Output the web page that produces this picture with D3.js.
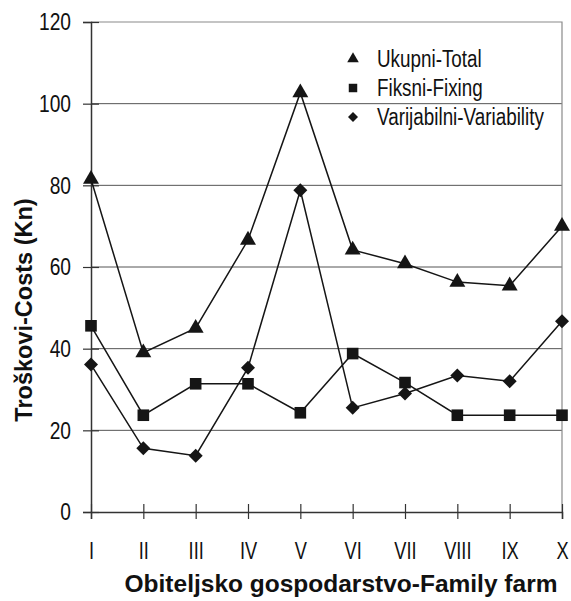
<!DOCTYPE html>
<html>
<head>
<meta charset="utf-8">
<script src="https://cdn.jsdelivr.net/npm/d3@7"></script>
<style>
  body { margin: 0; background: #fff; }
  svg { display: block; }
</style>
</head>
<body>
<div id="chart"></div>
<script>
// farms on the x axis
const farms = ['I', 'II', 'III', 'IV', 'V', 'VI', 'VII', 'VIII', 'IX', 'X'];
// costs per farm (Kn)
const total = [81.5, 39, 45, 66.6, 102.7, 64.2, 60.8, 56.3, 55.4, 70];
const fixed = [45.6, 23.7, 31.4, 31.4, 24.3, 38.8, 31.7, 23.7, 23.7, 23.7];
const variable = [36.1, 15.6, 13.8, 35.3, 78.8, 25.5, 29, 33.4, 32, 46.7];
const yTicks = [0, 20, 40, 60, 80, 100, 120];
const seriesNames = ['Ukupni-Total', 'Fiksni-Fixing', 'Varijabilni-Variability'];

const width = 571, height = 601;
const plotLeft = 91, plotRight = 562, plotTop = 22, plotBottom = 512;
const font = "'Liberation Sans', Arial, sans-serif";
const squeeze = 0.8; // the reference uses a narrow face, so squash horizontally

const svg = d3.select('#chart').append('svg')
  .attr('width', width)
  .attr('height', height);

const x = d3.scalePoint().domain(farms).range([plotLeft, plotRight]).padding(0);
const y = d3.scaleLinear().domain([0, 120]).range([plotBottom, plotTop]);

// gridlines
svg.append('g')
  .selectAll('line')
  .data(yTicks.filter(d => d > 0 && d < 120))
  .join('line')
    .attr('x1', plotLeft).attr('x2', plotRight)
    .attr('y1', d => y(d)).attr('y2', d => y(d))
    .attr('stroke', '#555')
    .attr('stroke-width', 1);

// top + right border
svg.append('path')
  .attr('d', `M${plotLeft},${y(120)}H${plotRight}V${plotBottom}`)
  .attr('fill', 'none')
  .attr('stroke', '#8a8a8a')
  .attr('stroke-width', 1.2);

// y axis
const yAxis = svg.append('g')
  .attr('transform', `translate(${plotLeft},0)`)
  .call(d3.axisLeft(y).tickValues(yTicks).tickSize(8).tickPadding(12));
yAxis.select('.domain').attr('stroke', '#333').attr('stroke-width', 1.5);
yAxis.selectAll('.tick line')
  .attr('x2', 8).attr('x1', -8)
  .attr('stroke', '#333').attr('stroke-width', 1.2);
yAxis.selectAll('.tick text')
  .attr('font-family', font)
  .attr('font-size', 24)
  .attr('fill', '#111')
  .attr('x', -20 / squeeze)
  .attr('transform', `scale(${squeeze},1)`);

// x axis
const xAxis = svg.append('g')
  .attr('transform', `translate(0,${plotBottom})`)
  .call(d3.axisBottom(x).tickSize(7).tickPadding(23));
xAxis.select('.domain').attr('stroke', '#333').attr('stroke-width', 1.5);
xAxis.selectAll('.tick line')
  .attr('y1', -8).attr('y2', 7)
  .attr('stroke', '#333').attr('stroke-width', 1.2);
xAxis.selectAll('.tick text')
  .attr('font-family', font)
  .attr('font-size', 24)
  .attr('fill', '#111')
  .attr('transform', 'scale(0.76,1)');

// axis titles
svg.append('text')
  .attr('transform', 'translate(32,310) rotate(-90)')
  .attr('text-anchor', 'middle')
  .attr('font-family', font)
  .attr('font-weight', 'bold')
  .attr('font-size', 23.5)
  .attr('fill', '#111')
  .text('Troškovi-Costs (Kn)');

svg.append('text')
  .attr('x', 341).attr('y', 592)
  .attr('text-anchor', 'middle')
  .attr('font-family', font)
  .attr('font-weight', 'bold')
  .attr('font-size', 24.5)
  .attr('fill', '#111')
  .text('Obiteljsko gospodarstvo-Family farm');

const series = [
  { name: seriesNames[0], values: total, symbol: d3.symbolTriangle, size: 110, legendSize: 58, rot: 0 },
  { name: seriesNames[1], values: fixed, symbol: d3.symbolSquare, size: 135, legendSize: 72, rot: 0 },
  { name: seriesNames[2], values: variable, symbol: d3.symbolSquare, size: 98, legendSize: 50, rot: 45 }
];

const line = d3.line()
  .x((d, i) => x(farms[i]))
  .y(d => y(d));

const plot = svg.append('g');
series.forEach(s => {
  plot.append('path')
    .attr('d', line(s.values))
    .attr('fill', 'none')
    .attr('stroke', '#151515')
    .attr('stroke-width', 1.5);
});
series.forEach(s => {
  plot.append('g')
    .selectAll('path')
    .data(s.values)
    .join('path')
      .attr('transform', (d, i) => `translate(${x(farms[i])},${y(d)}) rotate(${s.rot})`)
      .attr('d', d3.symbol().type(s.symbol).size(s.size))
      .attr('fill', '#151515');
});

// legend
const legend = svg.append('g')
  .attr('transform', 'translate(353,59)');
const item = legend.selectAll('g')
  .data(series)
  .join('g')
    .attr('transform', (d, i) => `translate(0,${i * 29})`);
item.append('path')
  .attr('transform', d => `rotate(${d.rot})`)
  .attr('d', d => d3.symbol().type(d.symbol).size(d.legendSize)())
  .attr('fill', '#151515');
item.append('text')
  .attr('transform', 'translate(24,0) scale(0.82,1)')
  .attr('dy', '0.35em')
  .attr('font-family', font)
  .attr('font-size', 23)
  .attr('fill', '#111')
  .text(d => d.name);
</script>
</body>
</html>
